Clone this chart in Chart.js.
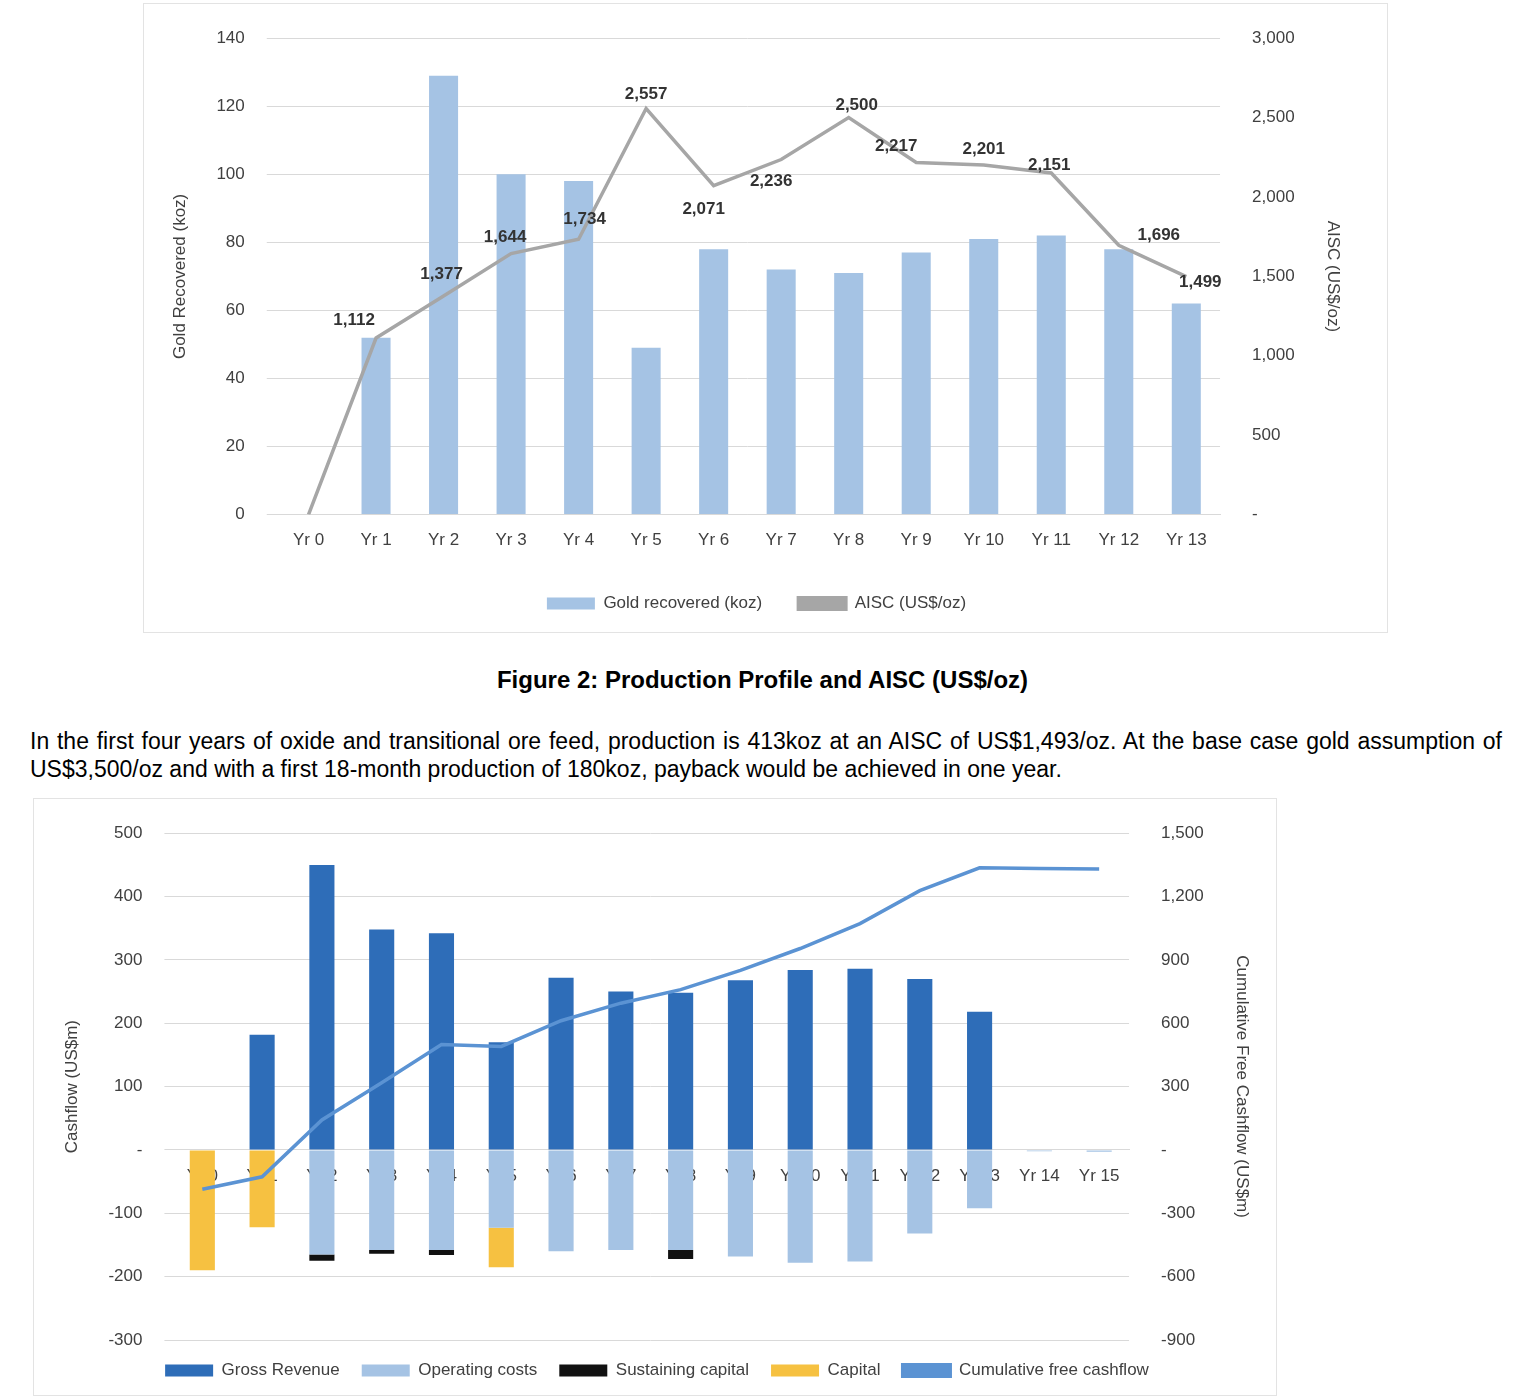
<!DOCTYPE html>
<html><head><meta charset="utf-8">
<script src="https://cdn.jsdelivr.net/npm/chart.js@4.4.1/dist/chart.umd.min.js"></script>
<style>
body{margin:0;background:#fff;width:1525px;height:1396px;position:relative;font-family:"Liberation Sans",Arial,sans-serif;}
.box{position:absolute;border:1px solid #e3e3e3;box-sizing:border-box;}
#cap{position:absolute;top:666px;left:0;width:1525px;text-align:center;font-weight:bold;font-size:24px;}
#para{position:absolute;top:727px;left:30px;width:1472px;font-size:23px;line-height:28px;text-align:justify;text-align-last:left;}
</style></head><body>
<div class="box" style="left:143px;top:3px;width:1245px;height:630px"><canvas id="c1"></canvas></div>
<div id="cap">Figure 2: Production Profile and AISC (US$/oz)</div>
<div id="para">In the first four years of oxide and transitional ore feed, production is 413koz at an AISC of US$1,493/oz. At the base case gold assumption of US$3,500/oz and with a first 18-month production of 180koz, payback would be achieved in one year.</div>
<div class="box" style="left:33px;top:798px;width:1244px;height:598px"><canvas id="c2"></canvas></div>
<script>
const years1 = ["Yr 0","Yr 1","Yr 2","Yr 3","Yr 4","Yr 5","Yr 6","Yr 7","Yr 8","Yr 9","Yr 10","Yr 11","Yr 12","Yr 13"];
const goldRecovered = [0,52,129,100,98,49,78,72,71,77,81,82,78,62];
const aisc = [0,1112,1377,1644,1734,2557,2071,2236,2500,2217,2201,2151,1696,1499];

const years2 = ["Yr 0","Yr 1","Yr 2","Yr 3","Yr 4","Yr 5","Yr 6","Yr 7","Yr 8","Yr 9","Yr 10","Yr 11","Yr 12","Yr 13","Yr 14","Yr 15"];
const grossRevenue = [0,182,450,348,342,170,272,250,248,268,284,286,270,218,0,0];
const operatingCosts = [0,0,-165,-158,-158,-123,-160,-158,-158,-168,-178,-176,-132,-92,-2,-3];
const sustainingCapital = [0,0,-10,-6,-8,0,0,0,-14,0,0,0,0,0,0,0];
const capital = [-190,-122,0,0,0,-62,0,0,0,0,0,0,0,0,0,0];
const cumulativeFCF = [-186,-127,142,318,499,490,612,695,759,850,954,1072,1228,1336,1333,1330];

const FONT = {family:"'Liberation Sans', Arial, sans-serif", size:17};
const TC = '#404040';
const fmt = v => v===0 ? '-' : v.toLocaleString('en-US');

function legendLabels(chart){
  return chart.data.datasets.map((d,i)=>({
    text:d.label, fillStyle:d.backgroundColor, strokeStyle:d.backgroundColor, lineWidth:0,
    pointStyle: d.type==='line' ? 'line' : 'rect', datasetIndex:i, fontColor:TC,
    ...(d.type==='line' ? {lineWidth:3} : {})
  }));
}

const labelPlugin = {
  id:'lbl',
  afterDatasetsDraw(chart){
    const meta = chart.getDatasetMeta(1);
    const ctx = chart.ctx;
    ctx.save();
    ctx.font = "bold 17px 'Liberation Sans', Arial";
    ctx.fillStyle = '#333';
    ctx.textAlign = 'center';
    const offs = [[0,0],[-22,-18],[-2,-22],[-6,-16],[6,-20],[0,-14],[-10,24],[-10,22],[8,-12],[-20,-16],[0,-16],[-2,-8],[40,-10],[14,6]];
    meta.data.forEach((p,i)=>{
      const v = aisc[i];
      if(!v) return;
      ctx.fillText(v.toLocaleString('en-US'), p.x+offs[i][0], p.y+offs[i][1]);
    });
    ctx.restore();
  }
};

const legendOpts = pad => ({position:'bottom',labels:{font:FONT,color:TC,boxWidth:48,boxHeight:12,padding:pad,generateLabels:legendLabels}});

new Chart(document.getElementById('c1'),{
  data:{labels:years1,datasets:[
    {type:'bar',label:'Gold recovered (koz)',data:goldRecovered,backgroundColor:'#a5c3e4',yAxisID:'y',barPercentage:0.43,categoryPercentage:1,order:2},
    {type:'line',label:'AISC (US$/oz)',data:aisc,borderColor:'#a6a6a6',backgroundColor:'#a6a6a6',borderWidth:3.5,pointRadius:0,yAxisID:'y1',tension:0,order:1}
  ]},
  options:{responsive:true,maintainAspectRatio:false,animation:false,
    layout:{padding:{top:6,left:22,right:40,bottom:10}},
    plugins:{legend:legendOpts(36),tooltip:{enabled:false}},
    scales:{
      x:{grid:{display:false},border:{color:'#d9d9d9'},ticks:{font:FONT,color:TC,padding:8}},
      y:{min:0,max:140,ticks:{stepSize:20,font:FONT,color:TC,padding:22},grid:{color:'#d9d9d9'},border:{display:false},
        title:{display:true,text:'Gold Recovered (koz)',font:FONT,color:TC}},
      y1:{position:'right',min:0,max:3000,ticks:{stepSize:500,font:FONT,color:TC,padding:24,callback:fmt},grid:{display:false},border:{display:false},
        title:{display:true,text:'AISC (US$/oz)',font:FONT,color:TC}}
    }},
  plugins:[labelPlugin]
});

new Chart(document.getElementById('c2'),{
  data:{labels:years2,datasets:[
    {type:'bar',label:'Gross Revenue',data:grossRevenue,backgroundColor:'#2e6db8',stack:'s',yAxisID:'y',barPercentage:0.42,categoryPercentage:1,order:2},
    {type:'bar',label:'Operating costs',data:operatingCosts,backgroundColor:'#a5c3e4',stack:'s',yAxisID:'y',barPercentage:0.42,categoryPercentage:1,order:2},
    {type:'bar',label:'Sustaining capital',data:sustainingCapital,backgroundColor:'#111111',stack:'s',yAxisID:'y',barPercentage:0.42,categoryPercentage:1,order:2},
    {type:'bar',label:'Capital',data:capital,backgroundColor:'#f6c141',stack:'s',yAxisID:'y',barPercentage:0.42,categoryPercentage:1,order:2},
    {type:'line',label:'Cumulative free cashflow',data:cumulativeFCF,borderColor:'#5b93d3',backgroundColor:'#5b93d3',borderWidth:3.5,pointRadius:0,yAxisID:'y1',tension:0,order:1}
  ]},
  options:{responsive:true,maintainAspectRatio:false,animation:false,
    layout:{padding:{top:7,left:24,right:20,bottom:6}},
    plugins:{legend:legendOpts(22),tooltip:{enabled:false}},
    scales:{
      x:{position:{y:0},z:1,grid:{display:false},border:{color:'#d9d9d9'},ticks:{font:FONT,color:TC,padding:8}},
      y:{min:-300,max:500,ticks:{stepSize:100,font:FONT,color:TC,padding:22,callback:fmt},grid:{color:'#d9d9d9'},border:{display:false},
        title:{display:true,text:'Cashflow (US$m)',font:FONT,color:TC}},
      y1:{position:'right',min:-900,max:1500,ticks:{stepSize:300,font:FONT,color:TC,padding:24,callback:fmt},grid:{display:false},border:{display:false},
        title:{display:true,text:'Cumulative Free Cashflow (US$m)',font:FONT,color:TC}}
    }}
});
</script>
</body></html>
